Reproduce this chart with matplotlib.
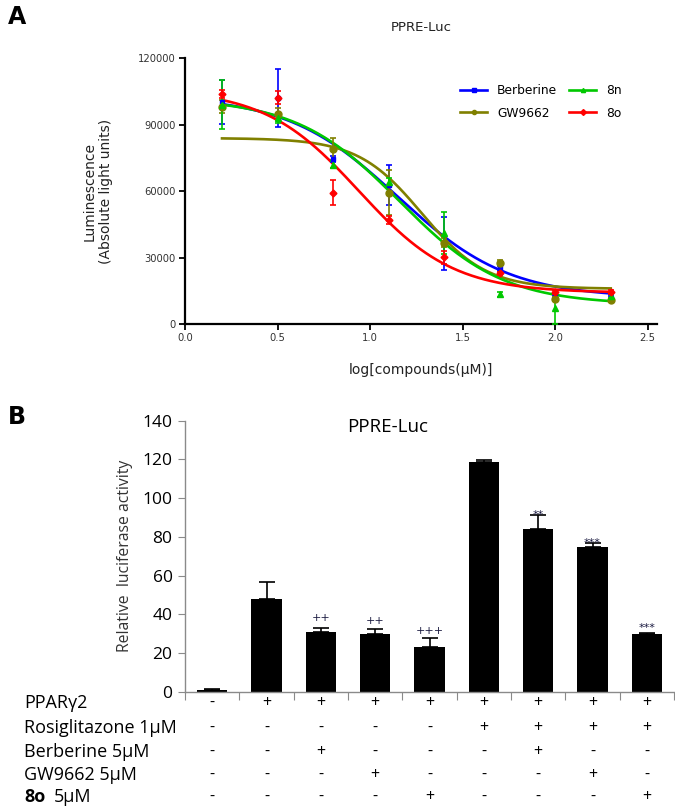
import numpy as np
import matplotlib
matplotlib.use("Agg")
import matplotlib.pyplot as plt
import matplotlib.transforms as mtransforms
from matplotlib.lines import Line2D

# ---------------- panel A data ----------------
log_conc = [0.2, 0.5, 0.8, 1.1, 1.4, 1.7, 2.0, 2.3]

berberine = [100400, 102200, 74500, 63000, 36500, 25300, 12300, 12000]
berberine_err = [10000, 13000, 1500, 9000, 12000, 1200, 800, 800]
gw9662 = [98200, 94700, 78900, 59400, 36800, 27800, 11400, 10800]
gw9662_err = [3000, 2700, 5000, 10000, 2000, 1000, 800, 800]
cpd_8n = [99000, 93000, 72000, 64000, 41000, 13500, 7200, 12800]
cpd_8n_err = [11000, 2000, 1500, 2000, 9500, 1000, 7000, 1000]
cpd_8o = [103900, 102200, 59400, 47000, 30200, 23000, 14500, 14500]
cpd_8o_err = [2000, 3000, 5500, 1800, 3000, 800, 800, 800]

# 4-parameter logistic fits: top, bottom, logIC50, hill
fit_berberine = [103000, 12000, 1.15, 1.45]
fit_gw9662 = [84000, 16000, 1.28, 2.5]
fit_8n = [102000, 8900, 1.16, 1.55]
fit_8o = [106000, 14200, 0.94, 1.7]

# ---------------- panel B data ----------------
bar_values = [1.0, 47.9, 31.0, 29.6, 22.9, 118.6, 83.9, 74.9, 29.6]
bar_err = [0.5, 9.0, 1.8, 2.6, 4.7, 1.2, 7.4, 2.0, 0.6]
bar_marks = ["", "", "++", "++", "+++", "", "**", "***", "***"]
mark_y = [0, 0, 37.9, 36.5, 31.3, 0, 91.3, 76.6, 33.0]

row_labels = ["PPARγ2", "Rosiglitazone 1μM", "Berberine 5μM", "GW9662 5μM", "8o 5μM"]
row_signs = [
    "-++++++++",
    "-----++++",
    "--+---+--",
    "---+---+-",
    "----+---+",
]

W, H = 675, 808
fig = plt.figure(figsize=(W / 100, H / 100), dpi=100)


def logistic(x, p):
    top, bottom, ic50, hill = p
    return bottom + (top - bottom) / (1 + 10 ** ((x - ic50) * hill))


# ================= panel A =================
axA = fig.add_axes([185 / W, 1 - 324.3 / H, (657 - 185) / W, (324.3 - 58.3) / H])
series = [
    ("Berberine", berberine, berberine_err, fit_berberine, "#0000ff", "s", 3.5),
    ("GW9662", gw9662, gw9662_err, fit_gw9662, "#808000", "o", 5),
    ("8n", cpd_8n, cpd_8n_err, fit_8n, "#00c800", "^", 4),
    ("8o", cpd_8o, cpd_8o_err, fit_8o, "#ff0000", "D", 3.5),
]
xs = np.linspace(log_conc[0], log_conc[-1], 300)
handles = []
for name, vals, err, fit, col, mk, ms in series:
    axA.plot(xs, logistic(xs, fit), color=col, lw=1.9, zorder=2)
    axA.errorbar(log_conc, vals, yerr=err, fmt=mk, color=col, ms=ms,
                 elinewidth=1.2, capsize=2.5, capthick=1.2, zorder=3)
    handles.append(Line2D([0], [0], color=col, lw=1.9, marker=mk, ms=3))

axA.set_xlim(0, 2.55)
axA.set_ylim(0, 120000)
axA.set_xticks([0.0, 0.5, 1.0, 1.5, 2.0, 2.5])
axA.set_xticklabels(["0.0", "0.5", "1.0", "1.5", "2.0", "2.5"])
axA.set_yticks([0, 30000, 60000, 90000, 120000])
for s in ["top", "right"]:
    axA.spines[s].set_visible(False)
for s in ["left", "bottom"]:
    axA.spines[s].set_linewidth(1.6)
axA.tick_params(direction="out", length=4, width=1.3, labelsize=7.2,
                labelcolor="#333333", pad=2.5)
axA.set_title("PPRE-Luc", fontsize=9.5, pad=20, color="#222222")
axA.set_xlabel("log[compounds(μM)]", fontsize=10, labelpad=14, color="#222222")
axA.set_ylabel("Luminescence\n(Absolute light units)", fontsize=10,
               labelpad=18, color="#222222")
axA.legend(handles, [s[0] for s in series], ncol=2, frameon=False,
           fontsize=8.8, loc="upper left", bbox_to_anchor=(0.56, 0.945),
           handlelength=2.2, columnspacing=1.0, labelspacing=0.8, handletextpad=0.8)

# ================= panel B =================
axB = fig.add_axes([185 / W, 1 - 691.7 / H, (674 - 185) / W, (691.7 - 420.7) / H])
pos = np.arange(len(bar_values))
axB.bar(pos, bar_values, width=0.56, color="black", zorder=2)
axB.errorbar(pos, bar_values, yerr=[[0] * len(bar_err), bar_err], fmt="none",
             ecolor="black", elinewidth=1.2, capsize=6, capthick=1.2, zorder=3)
for p, m, y in zip(pos, bar_marks, mark_y):
    if m:
        axB.text(p, y, m, ha="center", va="center", fontsize=8, color="#1a1a40")

axB.set_xlim(-0.5, len(bar_values) - 0.5)
axB.set_ylim(0, 140)
axB.set_yticks(range(0, 141, 20))
axB.set_xticks(np.arange(-0.5, len(bar_values), 1.0))
axB.set_xticklabels([])
for s in ["top", "right"]:
    axB.spines[s].set_visible(False)
for s in ["left", "bottom"]:
    axB.spines[s].set_color("#8a8a8a")
    axB.spines[s].set_linewidth(1.0)
axB.tick_params(axis="y", direction="out", length=5, color="#8a8a8a",
                labelsize=12.5, pad=4)
axB.tick_params(axis="x", direction="out", length=6, color="#8a8a8a")
for lab in axB.get_yticklabels():
    lab.set_family("Open Sans")
axB.text(0.414, 0.975, "PPRE-Luc", transform=axB.transAxes, fontsize=13.5,
         family="Open Sans", ha="center", va="center")
axB.set_ylabel("Relative  luciferase activity", fontsize=11.3, family="Open Sans",
               color="#333333", labelpad=7)

# +/- table under the bars
trans = mtransforms.blended_transform_factory(axB.transData, fig.transFigure)
row_y = [703, 728, 752, 775, 797]
for lab, signs, y in zip(row_labels, row_signs, row_y):
    yf = 1 - y / H
    if lab.startswith("8o"):
        fig.text(24 / W, yf, "8o", fontsize=13, fontweight="bold",
                 family="Open Sans", va="center", ha="left")
        fig.text(54 / W, yf, "5μM", fontsize=13, family="Open Sans",
                 va="center", ha="left")
    else:
        fig.text(24 / W, yf, lab, fontsize=13, family="Open Sans",
                 va="center", ha="left")
    for p, sg in zip(pos, signs):
        axB.text(p, yf, sg, transform=trans, ha="center", va="center",
                 fontsize=11.5, family="Open Sans")

# panel letters
fig.text(8 / W, 1 - 17 / H, "A", fontsize=17, fontweight="bold", va="center")
fig.text(8 / W, 1 - 417 / H, "B", fontsize=17, fontweight="bold", va="center")

fig.savefig("out.png", dpi=100)
